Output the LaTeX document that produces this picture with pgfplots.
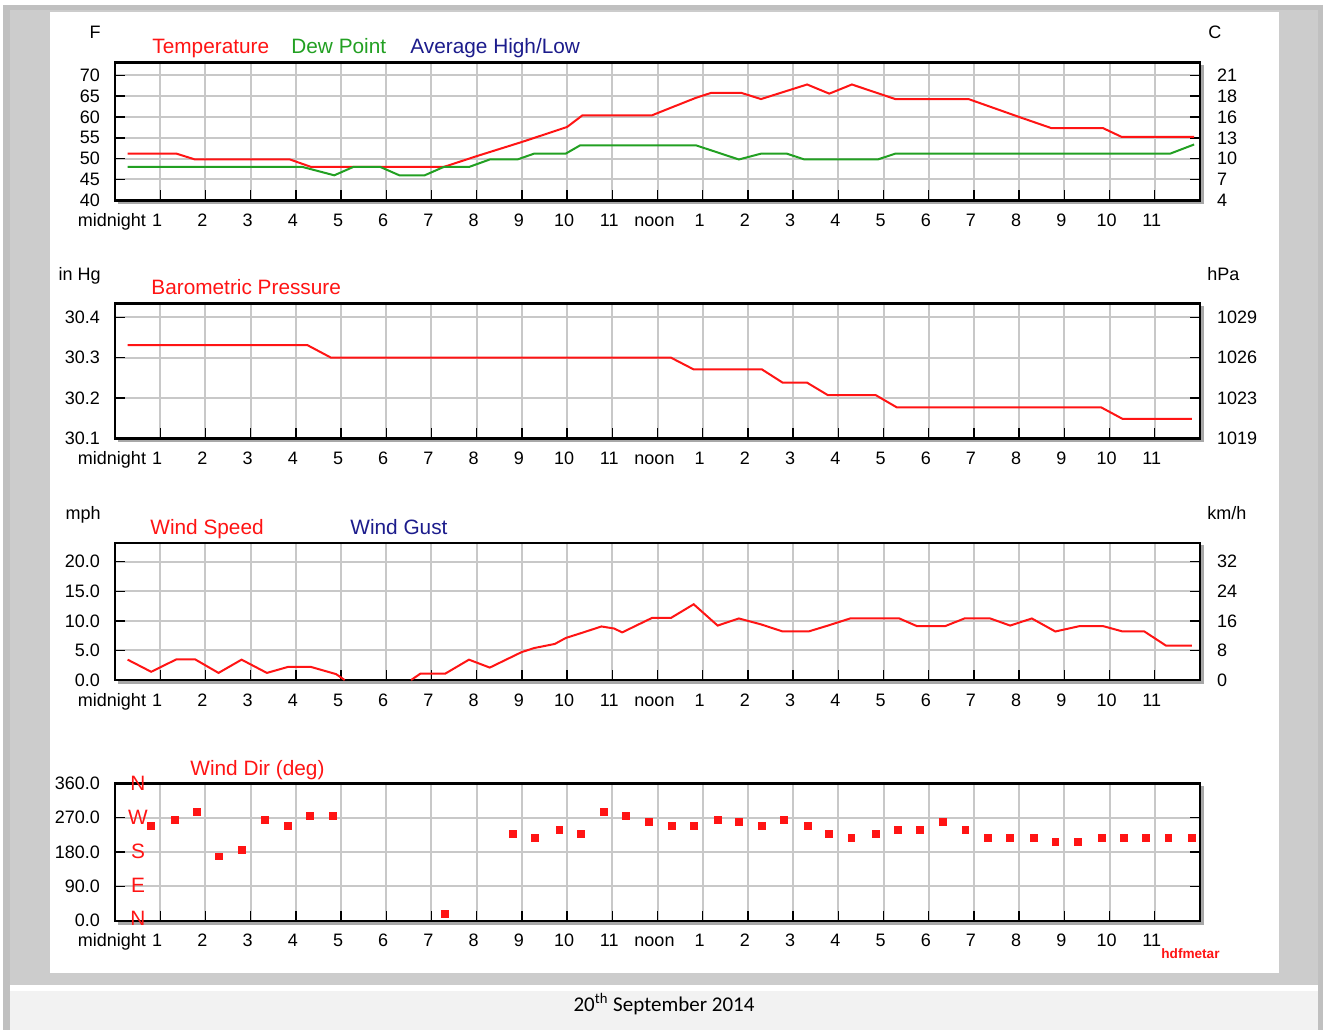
\documentclass[border=0pt]{standalone}
\usepackage{pgfplots}
\pgfplotsset{compat=1.18}
\usepackage{fontspec}
\setmainfont{Liberation Sans}
\newfontfamily\capfont{Carlito}
\definecolor{lred}{HTML}{FF1414}
\definecolor{lgreen}{HTML}{22A022}
\definecolor{navy}{HTML}{1C1C8C}
\definecolor{gridc}{HTML}{C8C8C8}
\definecolor{midgray}{HTML}{C0C0C0}
\definecolor{lightgrayb}{HTML}{CCCCCC}
\definecolor{capbg}{HTML}{F2F2F2}
\definecolor{shadowc}{HTML}{A8A8A8}
\newcommand\tk{\fontsize{9}{10}\selectfont}
\newcommand\ttl{\fontsize{10.4}{12}\selectfont}
\pgfplotsset{
  wx/.style={
    scale only axis, width=542.5pt,
    xmin=0, xmax=24,
    xtick={0,1,...,23},
    xticklabels={midnight,1,2,3,4,5,6,7,8,9,10,11,noon,1,2,3,4,5,6,7,8,9,10,11},
    xtick pos=left, ytick pos=both,
    tick align=inside, major tick length=5pt,
    tick style={black, line width=0.7pt},
    grid=major, major grid style={draw=gridc, line width=1pt},
    axis line style={black, line width=1.2pt},
    tick label style={font=\tk},
    xticklabel style={text height=6.5pt, yshift=-3pt, xshift=-1.5pt},
    yticklabel style={xshift=-4pt},
    /pgf/number format/assume math mode=true,
    anchor=south west,
    unbounded coords=jump,
  },
  wxr/.style={
    scale only axis, width=542.5pt, xmin=0, xmax=24,
    hide x axis, axis y line*=right, y axis line style={draw=none}, ytick style={draw=none},
    yticklabel style={font=\tk, xshift=5pt}, anchor=south west,
    /pgf/number format/assume math mode=true,
  }
}
\begin{document}
\begin{tikzpicture}[x=0.5pt,y=-0.5pt]
\useasboundingbox (0,0) rectangle (1323,1030);
\fill[white] (0,0) rectangle (1323,1030);
\fill[midgray] (3,5) rectangle (1323,1030);
\fill[lightgrayb] (10,10) rectangle (1318,985);
\fill[white] (10,985) rectangle (1318,991);
\fill[capbg] (10,991) rectangle (1318,1030);
\fill[white] (50,12) rectangle (1279,973);
% shadows
\draw[shadowc, line width=1.3pt] (1202.6,65) -- (1202.6,202.8) -- (118,202.8);
\draw[shadowc, line width=1.3pt] (1202.6,306) -- (1202.6,440.8) -- (118,440.8);
\draw[shadowc, line width=1.3pt] (1202.6,545) -- (1202.6,682.6) -- (118,682.6);
\draw[shadowc, line width=1.3pt] (1202.6,786) -- (1202.6,923.2) -- (118,923.2);
\coordinate (P1) at (115,200.3);
\coordinate (P2) at (115,438.3);
\coordinate (P3) at (115,680);
\coordinate (P4) at (115,920.7);

% ---------- Panel 1: temperature ----------
\begin{axis}[wx, at={(P1)}, height=68.85pt, ymin=40, ymax=73.05,
  ytick={40,45,50,55,60,65,70}, yticklabels={40,45,50,55,60,65,70}]
\addplot[lred, line width=1pt] coordinates {
(0.28,51.2) (1.36,51.2) (1.77,49.8) (3.87,49.8) (4.34,48) (7.27,48)
(8,50.6) (9,54) (10,57.6) (10.34,60.4) (11.88,60.4) (12.06,61.2)
(12.85,64.6) (13.19,65.8) (13.85,65.8) (14.29,64.3) (15.31,67.8)
(15.8,65.6) (16.3,67.8) (17.26,64.3) (18.88,64.3) (20,60) (20.72,57.3)
(21.86,57.3) (22.27,55.2) (23.87,55.2)};
\addplot[lgreen, line width=1pt] coordinates {
(0.28,48) (4.15,48) (4.85,46) (5.27,48) (5.87,48) (6.29,46) (6.85,46)
(7.27,48) (7.83,48) (8.29,49.8) (8.9,49.8) (9.27,51.2) (9.97,51.2)
(10.29,53.2) (12.85,53.2) (13.8,49.8) (14.29,51.2) (14.86,51.2)
(15.25,49.8) (16.87,49.8) (17.26,51.2) (23.34,51.2) (23.87,53.4)};
\end{axis}
\begin{axis}[wxr, at={(P1)}, height=68.85pt, ymin=40, ymax=73.05,
  ytick={40,45,50,55,60,65,70}, yticklabels={4,7,10,13,16,18,21}]
\addplot[draw=none] coordinates {(1,50)};
\end{axis}

% ---------- Panel 2: pressure ----------
\begin{axis}[wx, at={(P2)}, height=67.5pt, ymin=30.1, ymax=30.435,
  ytick={30.1,30.2,30.3,30.4}, yticklabels={30.1,30.2,30.3,30.4}]
\addplot[lred, line width=1pt] coordinates {
(0.28,30.331) (4.26,30.331) (4.78,30.30) (12.3,30.30) (12.8,30.271)
(14.31,30.271) (14.77,30.238) (15.31,30.238) (15.77,30.207) (16.83,30.207)
(17.29,30.177) (21.81,30.177) (22.29,30.148) (23.82,30.148)};
\end{axis}
\begin{axis}[wxr, at={(P2)}, height=67.5pt, ymin=30.1, ymax=30.435,
  ytick={30.1,30.2,30.3,30.4}, yticklabels={1019,1023,1026,1029}]
\addplot[draw=none] coordinates {(1,30.2)};
\end{axis}

% ---------- Panel 3: wind speed ----------
\begin{axis}[wx, at={(P3)}, height=68.65pt, ymin=0, ymax=23.2,
  ytick={0,5,10,15,20}, yticklabels={0.0,5.0,10.0,15.0,20.0}]
\addplot[lred, line width=1pt] coordinates {
(0.28,3.44) (0.8,1.39) (1.36,3.5) (1.77,3.5) (2.29,1.2) (2.8,3.44)
(3.36,1.2) (3.82,2.2) (4.34,2.2) (4.89,1.0) (5.08,0) (5.8,nan)
(6.55,0) (6.76,1.1) (7.31,1.1) (7.83,3.44) (8.29,2.1) (8.99,4.7)
(9.27,5.4) (9.73,6.1) (9.97,7.1) (10.34,8.0) (10.76,9.05) (11.04,8.7)
(11.22,8.05) (11.88,10.5) (12.3,10.5) (12.8,12.8) (13.33,9.2) (13.8,10.4)
(14.29,9.4) (14.77,8.2) (15.34,8.2) (15.77,9.2) (16.26,10.4) (17.35,10.4)
(17.74,9.1) (18.36,9.1) (18.79,10.4) (19.36,10.4) (19.8,9.2) (20.28,10.4)
(20.8,8.2) (21.33,9.1) (21.86,9.1) (22.29,8.2) (22.77,8.2) (23.25,5.8)
(23.82,5.8)};
\end{axis}
\begin{axis}[wxr, at={(P3)}, height=68.65pt, ymin=0, ymax=23.2,
  ytick={0,5,10,15,20}, yticklabels={0,8,16,24,32}]
\addplot[draw=none] coordinates {(1,5)};
\end{axis}

% ---------- Panel 4: wind direction ----------
\begin{axis}[wx, at={(P4)}, height=68.7pt, ymin=0, ymax=360,
  ytick={0,90,180,270,360}, yticklabels={0.0,90.0,180.0,270.0,360.0}]
\addplot[only marks, mark=square*, mark size=1.7pt, lred] coordinates {
(0.8,247.6) (1.33,263.4) (1.82,285.3) (2.3,168.6) (2.8,186.1) (3.32,263.4)
(3.82,247.6) (4.31,274.8) (4.82,274.8) (7.3,17.6) (8.8,226.5) (9.29,216.9)
(9.83,237) (10.31,226.5) (10.81,284.5) (11.3,274.8) (11.81,258.1)
(12.31,247.6) (12.81,247.6) (13.33,263.4) (13.8,259) (14.31,247.6)
(14.79,263.4) (15.32,247.6) (15.8,226.5) (16.29,216) (16.83,226.5)
(17.31,237) (17.8,237) (18.32,258.1) (18.81,237) (19.3,216) (19.79,216)
(20.32,216) (20.8,206.3) (21.3,206.3) (21.83,216) (22.32,216) (22.81,216)
(23.3,216) (23.82,216)};
\end{axis}

% ---------- texts ----------
\begin{scope}[every node/.style={inner sep=0pt}]
\node[anchor=base east, font=\tk] at (101,38) {F};
\node[anchor=base west, font=\tk] at (1208,38) {C};
\node[anchor=base west, font=\ttl, text=lred] at (152,53) {Temperature};
\node[anchor=base west, font=\ttl, text=lgreen] at (291,53) {Dew Point};
\node[anchor=base west, font=\ttl, text=navy] at (410,53) {Average High/Low};

\node[anchor=base east, font=\tk] at (101,280) {in Hg};
\node[anchor=base west, font=\tk] at (1207,280) {hPa};
\node[anchor=base west, font=\ttl, text=lred] at (151,294) {Barometric Pressure};

\node[anchor=base east, font=\tk] at (101,519) {mph};
\node[anchor=base west, font=\tk] at (1207,519) {km/h};
\node[anchor=base west, font=\ttl, text=lred] at (150,534) {Wind Speed};
\node[anchor=base west, font=\ttl, text=navy] at (350,534) {Wind Gust};

\node[anchor=base west, font=\ttl, text=lred] at (190,775) {Wind Dir (deg)};
\node[font=\ttl, text=lred] at (138,783) {N};
\node[font=\ttl, text=lred] at (138,817) {W};
\node[font=\ttl, text=lred] at (138,851) {S};
\node[font=\ttl, text=lred] at (138,885) {E};
\node[font=\ttl, text=lred] at (138,918) {N};
\node[anchor=base west, font=\bfseries\fontsize{6.8}{8}\selectfont, text=lred] at (1161,958) {hdfmetar};

\node[anchor=base, font=\capfont\fontsize{10.5}{12}\selectfont] at (664,1011) {20\textsuperscript{th} September 2014};
\end{scope}
\end{tikzpicture}
\end{document}
